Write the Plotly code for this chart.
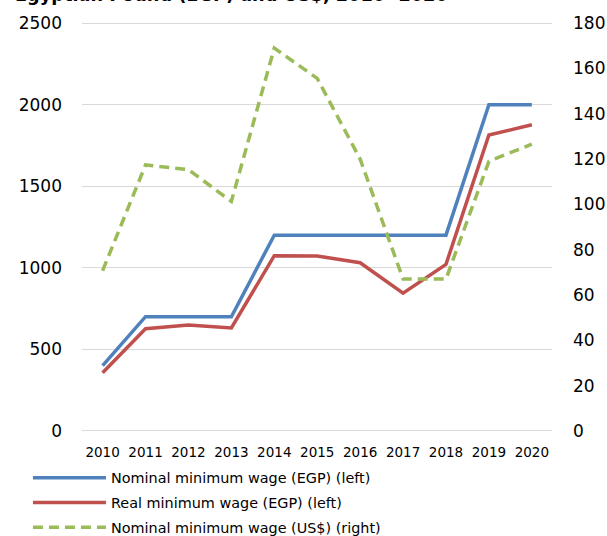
import plotly.graph_objects as go

years = [2010, 2011, 2012, 2013, 2014, 2015, 2016, 2017, 2018, 2019, 2020]
nominal_egp = [400, 700, 700, 700, 1200, 1200, 1200, 1200, 1200, 2000, 2000]
real_egp = [356, 626, 649, 631, 1074, 1072, 1031, 844, 1021, 1814, 1877]
nominal_usd = [70.7, 117.4, 115.3, 101.3, 169, 155.6, 120, 67, 67, 119, 126.6]

title_text = "Egyptian Pound (EGP) and US$, 2010- 2020"
names = ["Nominal minimum wage (EGP) (left)",
         "Real minimum wage (EGP) (left)",
         "Nominal minimum wage (US$) (right)"]

FONT = "DejaVu Sans"
fig = go.Figure()
fig.add_trace(go.Scatter(x=years, y=nominal_egp, name=names[0], mode="lines",
                         line=dict(color="#4F81BD", width=3.5), legendgroup="a"))
fig.add_trace(go.Scatter(x=years, y=real_egp, name=names[1], mode="lines",
                         line=dict(color="#C0504D", width=3.5), legendgroup="b"))
fig.add_trace(go.Scatter(x=years, y=nominal_usd, name=names[2], mode="lines",
                         line=dict(color="#9BBB59", width=3.5, dash="10px,6px"),
                         yaxis="y2", legendgroup="c"))

fig.update_layout(
    width=607, height=536,
    margin=dict(l=82, r=55, t=22, b=104, autoexpand=False),
    paper_bgcolor="white", plot_bgcolor="white",
    font=dict(family=FONT, size=14, color="#000000"),
    xaxis=dict(range=[2009.52, 2020.47], tickvals=years, ticktext=[str(y) for y in years],
               showgrid=False, zeroline=False, showline=False, ticks="",
               tickfont=dict(size=13.5), ticklabelstandoff=10),
    yaxis=dict(range=[-7, 2507], tickvals=[0, 500, 1000, 1500, 2000, 2500],
               showgrid=True, gridcolor="#D9D9D9", gridwidth=1.3,
               zeroline=False, showline=False, ticks="", tickfont=dict(size=17),
               ticklabelstandoff=19),
    yaxis2=dict(range=[-0.504, 180.504], tickvals=list(range(0, 181, 20)),
                overlaying="y", side="right", showgrid=False,
                zeroline=False, showline=False, ticks="", tickfont=dict(size=17),
                ticklabelstandoff=20),
    legend=dict(x=-0.115, xanchor="left", y=-0.073, yanchor="top", orientation="v",
                font=dict(size=14.4), tracegroupgap=3, itemwidth=73, bgcolor="rgba(0,0,0,0)"),
    showlegend=True,
    hovermode=False,
    annotations=[dict(text="<b>" + title_text + "</b>", xref="paper", yref="paper",
                      x=-0.147, xanchor="left", y=1.036, yanchor="bottom", showarrow=False,
                      font=dict(size=17.7, family=FONT))],
)
fig.write_html("out.html", config={"displayModeBar": False},
               post_script="document.body.style.margin='0';document.body.style.overflow='hidden';")
